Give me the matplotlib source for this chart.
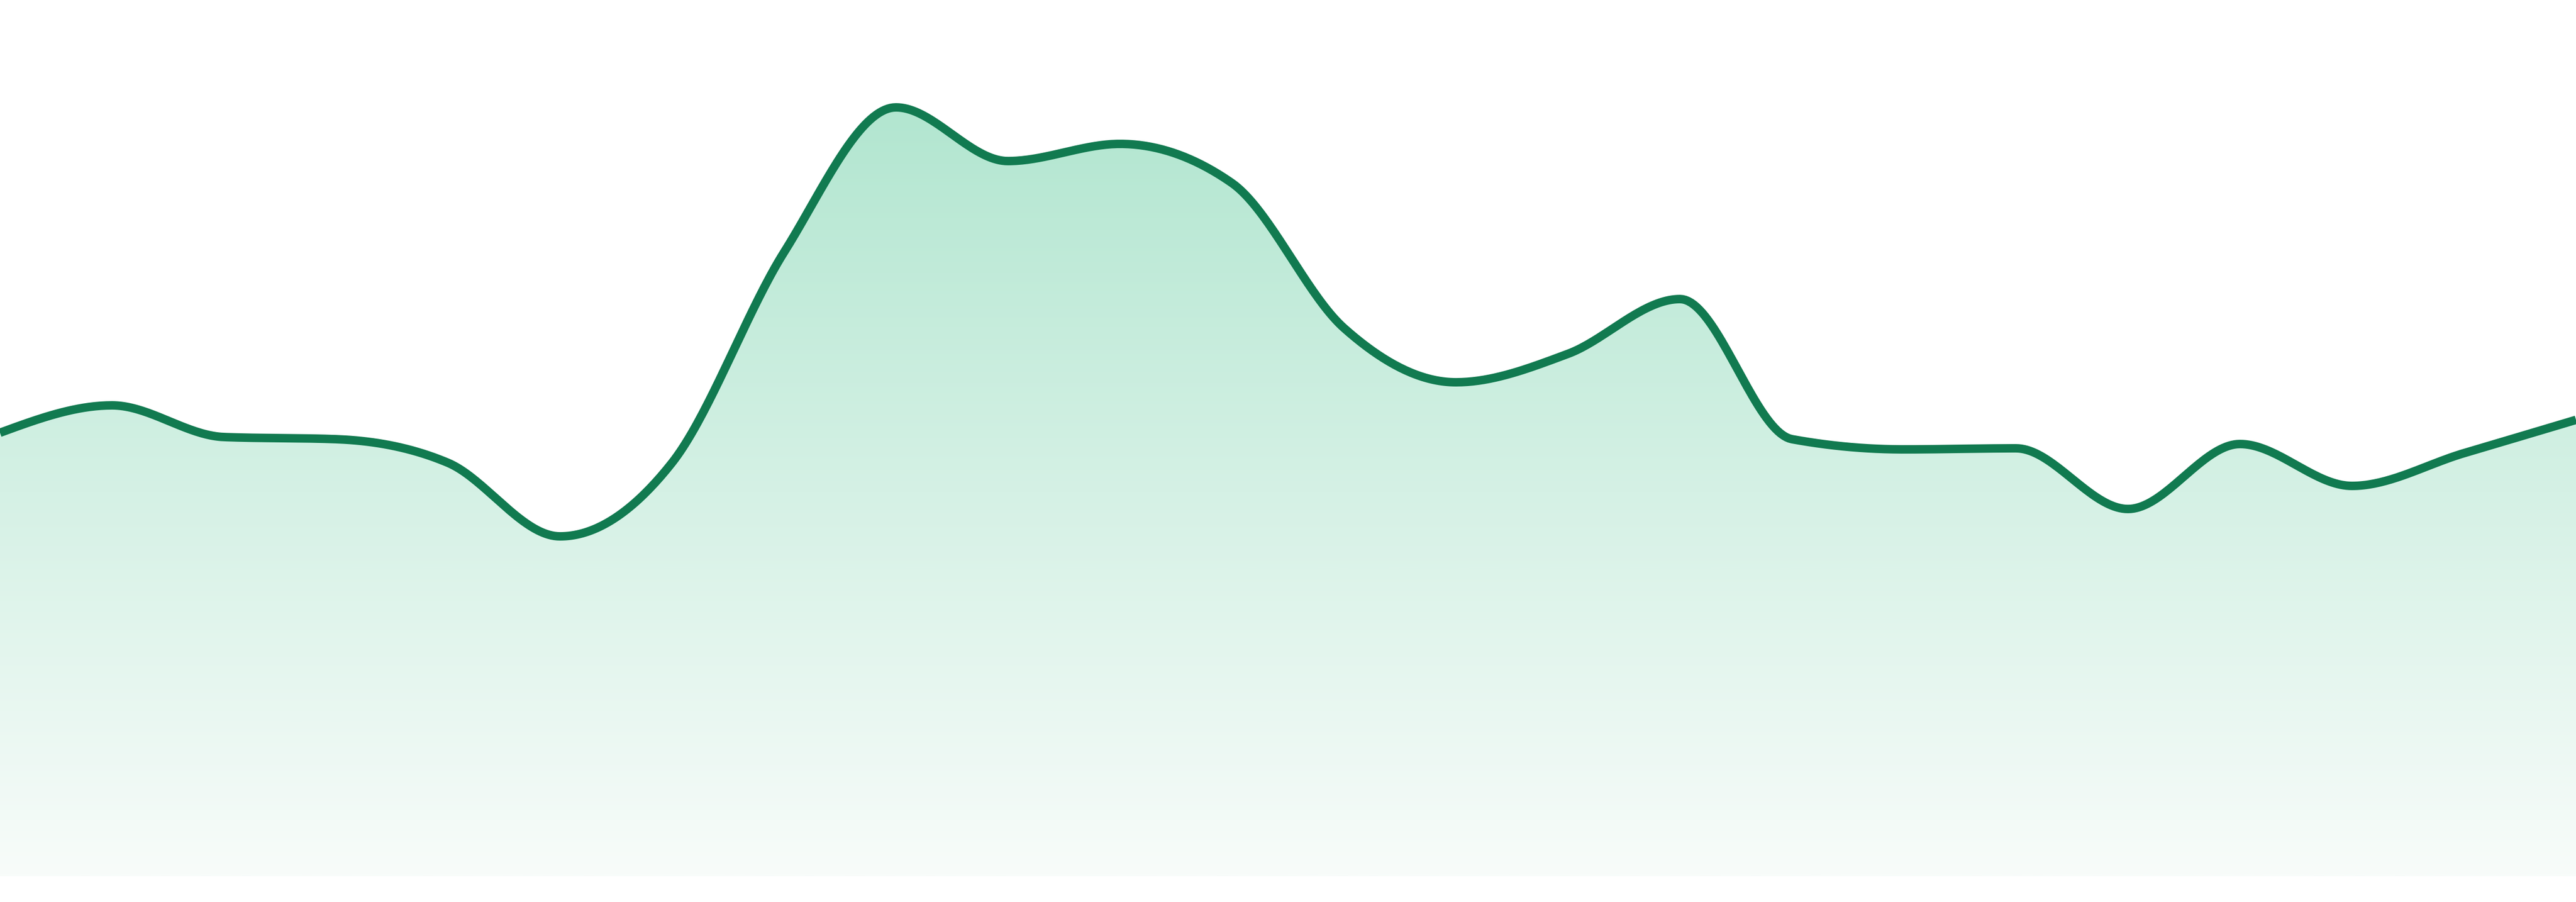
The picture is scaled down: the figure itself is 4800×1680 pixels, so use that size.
import numpy as np
import matplotlib
matplotlib.use("Agg")
import matplotlib.pyplot as plt
from matplotlib.colors import LinearSegmentedColormap
from matplotlib.patches import Polygon

# ---- data (24 evenly spaced points) ----
idx = list(range(24))
values = [82.6, 87.7, 81.8, 81.4, 77.0, 63.3, 77.0, 116.2,
          143.2, 133.2, 136.4, 129.1, 102.1, 92.0, 97.3, 107.5,
          81.4, 79.5, 79.7, 68.4, 80.5, 72.7, 78.8, 85.0]

LINE_COLOR = "#117a50"
FILL_TOP = "#b2e6d0"
FILL_BOTTOM = "#f8fcfa"


def monotone_x(xs, ys, n=40):
    """d3.curveMonotoneX style interpolation."""
    xs = np.asarray(xs, float)
    ys = np.asarray(ys, float)
    m = len(xs)
    h = np.diff(xs)
    s = np.diff(ys) / h
    t = np.zeros(m)
    for i in range(1, m - 1):
        h0, h1 = h[i - 1], h[i]
        s0, s1 = s[i - 1], s[i]
        p = (s0 * h1 + s1 * h0) / (h0 + h1)
        t[i] = (np.sign(s0) + np.sign(s1)) * min(abs(s0), abs(s1), 0.5 * abs(p))
    t[0] = (3 * s[0] - t[1]) / 2
    t[-1] = (3 * s[-1] - t[-2]) / 2
    out_x, out_y = [], []
    for i in range(m - 1):
        x0, x1 = xs[i], xs[i + 1]
        y0, y1 = ys[i], ys[i + 1]
        dx = (x1 - x0) / 3
        P = np.array([[x0, y0], [x0 + dx, y0 + dx * t[i]],
                      [x1 - dx, y1 - dx * t[i + 1]], [x1, y1]])
        u = np.linspace(0, 1, n, endpoint=(i == m - 2))[:, None]
        B = ((1 - u) ** 3) * P[0] + 3 * ((1 - u) ** 2) * u * P[1] + \
            3 * (1 - u) * (u ** 2) * P[2] + (u ** 3) * P[3]
        out_x.append(B[:, 0])
        out_y.append(B[:, 1])
    return np.concatenate(out_x), np.concatenate(out_y)


cx, cy = monotone_x(idx, values)

fig = plt.figure(figsize=(16, 5.6), dpi=300)
ax = fig.add_axes([0, 0, 1, 1])
ax.set_xlim(0, len(idx) - 1)
ax.set_ylim(-4.8, 163.2)
ax.axis("off")

# gradient fill clipped to area under the curve
verts = np.column_stack([np.r_[cx, cx[-1], cx[0]], np.r_[cy, 0, 0]])
poly = Polygon(verts, closed=True, facecolor="none", edgecolor="none")
ax.add_patch(poly)
cmap = LinearSegmentedColormap.from_list("g", [FILL_BOTTOM, FILL_TOP])
grad = np.linspace(0, 1, 512).reshape(-1, 1)
top = max(values)
im = ax.imshow(grad, cmap=cmap, aspect="auto", origin="lower",
               extent=[0, len(idx) - 1, 0, top], zorder=1,
               interpolation="bilinear")
im.set_clip_path(poly)

ax.plot(cx, cy, color=LINE_COLOR, lw=3.8, solid_joinstyle="round",
        solid_capstyle="butt", zorder=3)

fig.savefig("out.png", dpi=300, facecolor="white")
